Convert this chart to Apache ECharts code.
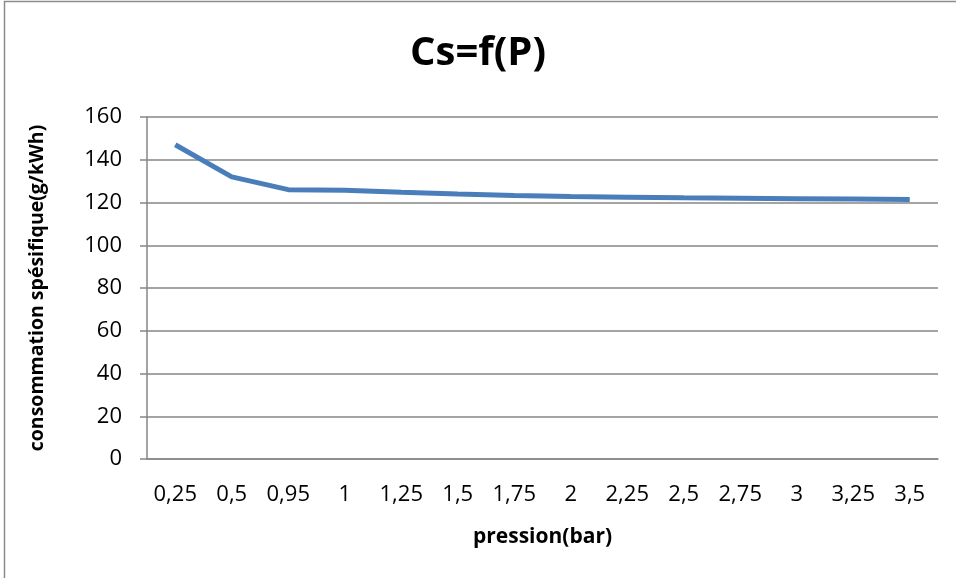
<!DOCTYPE html>
<html>
<head>
<meta charset="utf-8">
<script src="https://cdn.jsdelivr.net/npm/echarts@6/dist/echarts.min.js"></script>
<style>
html,body{margin:0;padding:0;background:#fff;}
#chart{width:956px;height:578px;}
</style>
</head>
<body>
<div id="chart"></div>
<script>
// Pression (bar) categories and specific consumption values (g/kWh)
const pressures = ['0,25','0,5','0,95','1','1,25','1,5','1,75','2','2,25','2,5','2,75','3','3,25','3,5'];
const consumption = [147, 132, 126, 125.7, 124.8, 124, 123.3, 122.8, 122.5, 122.2, 122, 121.8, 121.6, 121.4];
const yTicks = [0, 20, 40, 60, 80, 100, 120, 140, 160];

const font = "'Open Sans', 'Liberation Sans', sans-serif";
const chart = echarts.init(document.getElementById('chart'));
chart.setOption({
  backgroundColor: '#ffffff',
  animation: false,
  title: {
    text: 'Cs=f(P)',
    left: 'center',
    top: 29,
    textStyle: { fontFamily: font, fontWeight: 'bold', fontSize: 40, color: '#000' }
  },
  graphic: [{
    type: 'rect',
    shape: { x: 4.5, y: 1.5, width: 960, height: 600 },
    style: { fill: 'none', stroke: '#8c8c8c', lineWidth: 1.5 },
    silent: true
  }],
  grid: { left: 147, right: 18, top: 117, bottom: 119 },
  xAxis: {
    type: 'category',
    data: pressures,
    boundaryGap: true,
    name: 'pression(bar)',
    nameLocation: 'middle',
    nameGap: 68,
    nameTextStyle: { fontFamily: font, fontWeight: 'bold', fontSize: 21, color: '#000' },
    axisLine: { lineStyle: { color: '#868686', width: 1.5 } },
    axisTick: { show: false },
    axisLabel: { fontFamily: font, fontSize: 22, color: '#000', margin: 25, interval: 0 }
  },
  yAxis: {
    type: 'value',
    min: yTicks[0],
    max: yTicks[yTicks.length - 1],
    interval: 20,
    name: 'consommation spésifique(g/kWh)',
    nameLocation: 'middle',
    nameGap: 100,
    nameRotate: 90,
    nameTextStyle: { fontFamily: font, fontWeight: 'bold', fontSize: 19.5, color: '#000' },
    axisLine: { show: true, lineStyle: { color: '#868686', width: 1.5 } },
    axisTick: { show: true, length: 7, lineStyle: { color: '#868686', width: 1.5 } },
    axisLabel: { fontFamily: font, fontSize: 22, color: '#000', margin: 25 },
    splitLine: { lineStyle: { color: '#868686', width: 1.5 } }
  },
  series: [{
    type: 'line',
    data: consumption,
    symbol: 'none',
    lineStyle: { color: '#4a7ebb', width: 5 },
    itemStyle: { color: '#4a7ebb' }
  }]
});
</script>
</body>
</html>
